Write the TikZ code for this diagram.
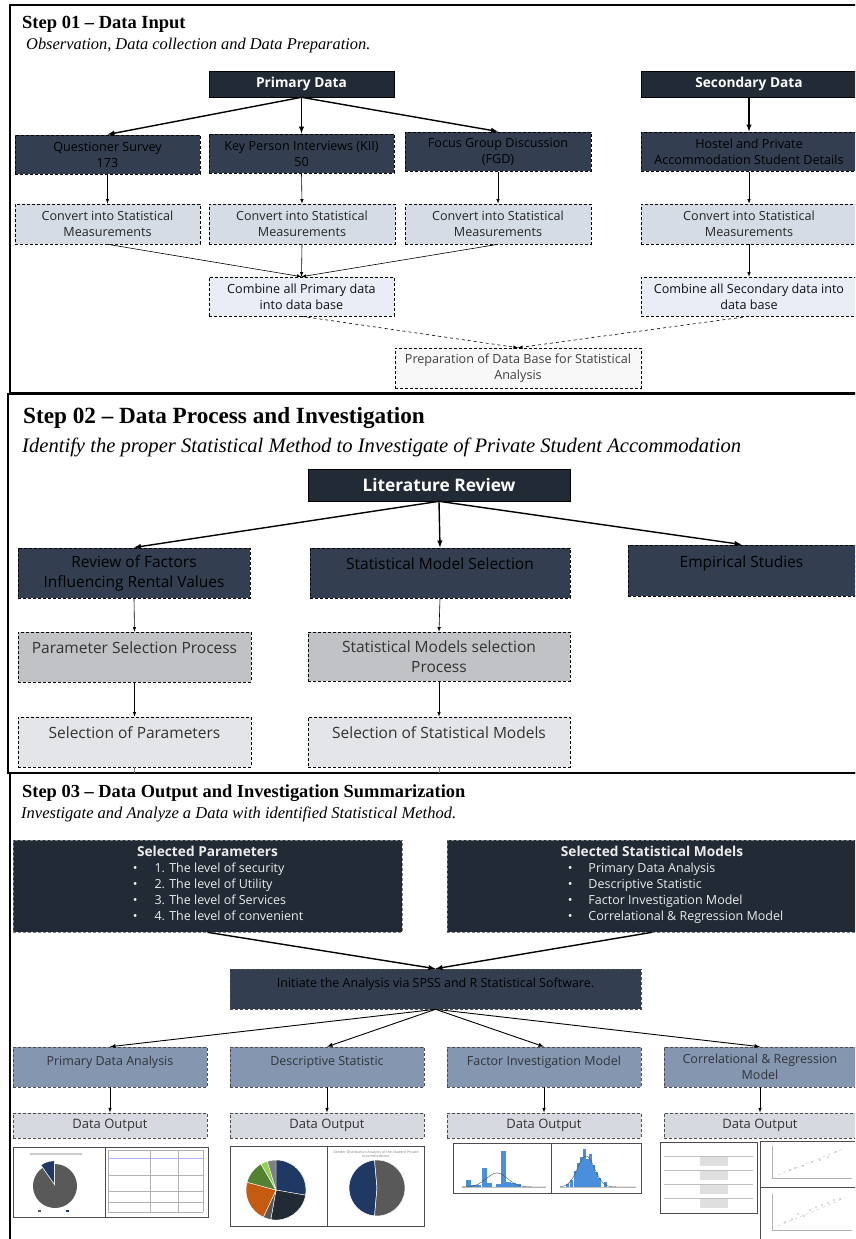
\documentclass[tikz,border=0pt]{standalone}
\usepackage{fontspec}
\setmainfont{Liberation Serif}
\newfontfamily\boxfont{Open Sans}
\usepackage{tikz}

\definecolor{navydark}{HTML}{222A35}
\definecolor{navymid}{HTML}{333F50}
\definecolor{navytext}{HTML}{0E1117}
\definecolor{convfill}{HTML}{D6DCE5}
\definecolor{combfill}{HTML}{E9EEF6}
\definecolor{prepfill}{HTML}{F8F8F8}
\definecolor{procfill}{HTML}{C0C2C6}
\definecolor{selfill}{HTML}{E4E5E9}
\definecolor{bluegrey}{HTML}{8496B0}
\definecolor{outfill}{HTML}{D7D9E1}
\definecolor{chartblue}{HTML}{4A8FDB}
\definecolor{piegrey}{HTML}{595959}
\definecolor{pienavy}{HTML}{203864}
\definecolor{pieorange}{HTML}{C55A11}
\definecolor{piegreen}{HTML}{548235}
\definecolor{pielime}{HTML}{92D050}

\begin{document}
\begin{tikzpicture}[x=1pt,y=-1pt,>=latex,
  frame/.style={line width=1.8pt},
  steptitle/.style={anchor=base west,inner sep=0},
  box/.style={draw,rectangle,inner sep=1pt,align=center,
    font=\boxfont\fontsize{12.6}{16}\selectfont},
  dashbox/.style={dash pattern=on 3pt off 2pt},
  topbox/.style={box,fill=navydark,text=white,minimum height=26,line width=0.6pt,
    font=\boxfont\bfseries\fontsize{13.7}{16}\selectfont},
  srcbox/.style={box,dashbox,fill=navymid,text=black,minimum height=39,line width=1pt},
  convbox/.style={box,dashbox,fill=convfill,text=black!85,minimum height=40,line width=0.6pt},
  combbox/.style={convbox,fill=combfill,text=navytext},
  prepbox/.style={convbox,fill=prepfill,text=black!75},
  litbox/.style={box,fill=navydark,text=white,minimum height=32,line width=0.6pt,
    font=\boxfont\bfseries\fontsize{17.3}{20}\selectfont},
  revbox/.style={box,dashbox,fill=navymid,text=black,minimum height=50,line width=1pt,
    font=\boxfont\fontsize{15.5}{20}\selectfont},
  procbox/.style={revbox,fill=procfill,text=black!80,line width=0.6pt},
  selbox/.style={procbox,fill=selfill},
  listbox/.style={box,dashbox,draw=gray,fill=navydark,text=white!85!gray,line width=0.6pt,
    minimum height=92,font=\boxfont\fontsize{12.5}{16}\selectfont},
  initbox/.style={box,dashbox,draw=gray!60!black,fill=navymid,text=black,line width=0.6pt,
    minimum height=40,font=\boxfont\fontsize{12.5}{16}\selectfont},
  anbox/.style={initbox,fill=bluegrey,text=navytext!85!white},
  outbox/.style={box,dashbox,draw=black!70,fill=outfill,text=black!80,line width=1pt,
    minimum height=25,font=\boxfont\fontsize{13}{16}\selectfont},
  main/.style={->,line width=1.4pt},
  sub/.style={->,line width=0.6pt},
  link/.style={->,dashed,line width=0.6pt},
  thumb/.style={draw=black!70,line width=0.9pt}
]

\useasboundingbox (0,0) rectangle (855,1239);
\clip (0,0) rectangle (855,1239);
\fill[white] (0,0) rectangle (855,1239);

% Frames of the three steps
\draw[frame] (10,5) rectangle (880,393);
\draw[frame] (8,394) rectangle (880,773);
\draw[frame] (10,773) rectangle (880,1260);

%%%%%%%%%% Step 01
\node[steptitle,font=\bfseries\fontsize{18.5}{20}\selectfont] (t1) at (22,29) {Step 01 – Data Input};
\node[steptitle,font=\itshape\fontsize{16.4}{18}\selectfont] (s1) at (26,50) {Observation, Data collection and Data Preparation.};

% Sources
\node[topbox,minimum width=185] (pd) at (301.5,84) {Primary Data};
\node[topbox,minimum width=216] (sd) at (749,84) {Secondary Data};

\node[srcbox,minimum width=185] (qs) at (107.5,154.5) {Questioner Survey\\173};
\node[srcbox,minimum width=185] (kii) at (301.5,153.5) {Key Person Interviews (KII)\\50};
\node[srcbox,minimum width=186] (fgd) at (498,151.5) {Focus Group Discussion\\(FGD)};
\node[srcbox,minimum width=216] (hs) at (749,151.5) {Hostel and Private\\Accommodation Student Details};

% Conversion
\node[convbox,minimum width=185] (cv1) at (107.5,224) {Convert into Statistical\\Measurements};
\node[convbox,minimum width=186] (cv2) at (302,224) {Convert into Statistical\\Measurements};
\node[convbox,minimum width=186] (cv3) at (498,224) {Convert into Statistical\\Measurements};
\node[convbox,minimum width=216] (cv4) at (749,224) {Convert into Statistical\\Measurements};

% Combine
\node[combbox,minimum width=185,minimum height=39] (cpd) at (301.5,296.5) {Combine all Primary data\\into data base};
\node[combbox,minimum width=216,minimum height=39] (csd) at (749,296.5) {Combine all Secondary data into\\data base};
\node[prepbox,minimum width=246] (prep) at (518,368) {Preparation of Data Base for Statistical\\Analysis};

\draw[main] (pd.south) -- (qs.north);
\draw[main] (pd.south) -- (kii.north);
\draw[main] (pd.south) -- (fgd.north);
\draw[main] (sd.south) -- (hs.north);

\draw[sub] (qs.south) -- (cv1.north);
\draw[sub] (kii.south) -- (cv2.north);
\draw[sub] (fgd.south) -- (cv3.north);
\draw[sub] (hs.south) -- (cv4.north);

\draw[sub] (cv1.south) -- (cpd.north);
\draw[sub] (cv2.south) -- (cpd.north);
\draw[sub] (cv3.south) -- (cpd.north);
\draw[sub] (cv4.south) -- (csd.north);

\draw[link] (cpd.south) -- (prep.north);
\draw[link] (csd.south) -- (prep.north);

%%%%%%%%%% Step 02
\node[steptitle,font=\bfseries\fontsize{23.2}{25}\selectfont] (t2) at (23,423) {Step 02 – Data Process and Investigation};
\node[steptitle,font=\itshape\fontsize{20.6}{22}\selectfont] (s2) at (22,452) {Identify the proper Statistical Method to Investigate of Private Student Accommodation};

\node[litbox,minimum width=262] (lr) at (439,485) {Literature Review};

\node[revbox,minimum width=232] (rf) at (134,573) {Review of Factors\\Influencing Rental Values};
\node[revbox,minimum width=260] (ms) at (440,573) {Statistical Model Selection\\[-8pt]\strut};
\node[revbox,minimum width=227,minimum height=51] (es) at (741.5,570.5) {Empirical Studies\\[-8pt]\strut};

\node[procbox,minimum width=233] (ps) at (134.5,657) {Parameter Selection Process\\[-8pt]\strut};
\node[procbox,minimum width=262,minimum height=49] (msp) at (439,656.5) {Statistical Models selection\\Process};

\node[selbox,minimum width=233] (sp) at (134.5,742) {Selection of Parameters\\[-8pt]\strut};
\node[selbox,minimum width=262] (ssm) at (439,742) {Selection of Statistical Models\\[-8pt]\strut};

\coordinate (sp-end) at (134.5,773);
\coordinate (ssm-end) at (439,773);

\draw[main] (lr.south) -- (rf.north);
\draw[main] (lr.south) -- (ms.north);
\draw[main] (lr.south) -- (es.north);

\draw[sub] (rf.south) -- (ps.north);
\draw[sub] (ps.south) -- (sp.north);
\draw[sub] (ms.south) -- (msp.north);
\draw[sub] (msp.south) -- (ssm.north);
\draw[gray,line width=0.5pt] (sp.south) -- (sp-end);
\draw[gray,line width=0.5pt] (ssm.south) -- (ssm-end);

%%%%%%%%%% Step 03
\node[steptitle,font=\bfseries\fontsize{18.4}{20}\selectfont] (t3) at (22,797) {Step 03 – Data Output and Investigation Summarization};
\node[steptitle,font=\itshape\fontsize{16.5}{18}\selectfont] (s3) at (21,818) {Investigate and Analyze a Data with identified Statistical Method.};

\node[listbox,minimum width=389] (spar) at (207.5,886) {%
  {\bfseries\fontsize{13.7}{16}\selectfont Selected Parameters}\\
  \hspace*{21pt}\begin{tabular}[t]{@{}l@{\hspace{17pt}}l@{}}
  \textbullet & 1. The level of security\\
  \textbullet & 2. The level of Utility\\
  \textbullet & 3. The level of Services\\
  \textbullet & 4. The level of convenient
  \end{tabular}};
\node[listbox,minimum width=410] (smod) at (652,886) {%
  {\bfseries\fontsize{13.7}{16}\selectfont Selected Statistical Models}\\
  \hspace*{47pt}\begin{tabular}[t]{@{}l@{\hspace{16pt}}l@{}}
  \textbullet & Primary Data Analysis\\
  \textbullet & Descriptive Statistic\\
  \textbullet & Factor Investigation Model\\
  \textbullet & Correlational \& Regression Model
  \end{tabular}};

\node[initbox,minimum width=411] (ini) at (435.5,989) {Initiate the Analysis via SPSS and R Statistical Software.\\[-8pt]\strut};

\node[anbox,minimum width=194] (pda) at (110,1067) {Primary Data Analysis\\[-8pt]\strut};
\node[anbox,minimum width=194] (dst) at (327,1067) {Descriptive Statistic\\[-8pt]\strut};
\node[anbox,minimum width=194] (fim) at (544,1067) {Factor Investigation Model\\[-8pt]\strut};
\node[anbox,minimum width=192] (crm) at (760,1067) {Correlational \& Regression\\Model};

\node[outbox,minimum width=194] (do1) at (110,1125.5) {Data Output};
\node[outbox,minimum width=194] (do2) at (327,1125.5) {Data Output};
\node[outbox,minimum width=194] (do3) at (544,1125.5) {Data Output};
\node[outbox,minimum width=192] (do4) at (760,1125.5) {Data Output};

\draw[main] (spar.south) -- (ini.north);
\draw[main] (smod.south) -- (ini.north);
\foreach \n in {pda,dst,fim,crm}
  \draw[->,line width=0.9pt] (ini.south) -- (\n.north);

\draw[sub] (pda.south) -- (do1.north);
\draw[sub] (dst.south) -- (do2.north);
\draw[sub] (fim.south) -- (do3.north);
\draw[sub] (crm.south) -- (do4.north);

% Output 1: respond chart and table
\draw[thumb] (13,1147) rectangle (208,1217);
\draw[thumb] (105,1147) -- (105,1217);
\fill[piegrey] (55,1186) -- ++(-125:22) arc[start angle=-125,end angle=-450,radius=22] -- cycle;
\fill[pienavy,shift={(-108:3)}] (55,1186) -- ++(-90:22) arc[start angle=-90,end angle=-125,radius=22] -- cycle;
\fill[gray!40] (30,1153) rectangle (82,1155);
\fill[piegrey] (38,1212) rectangle ++(3,-2);
\fill[pienavy] (66,1212) rectangle ++(3,-2);
\foreach \yy in {1150,1158,1175,1191,1202,1212}
  \draw[gray!60,line width=0.4pt] (108,\yy) -- (203,\yy);
\foreach \xx in {108,150,178,203}
  \draw[gray!60,line width=0.4pt] (\xx,1150) -- (\xx,1212);
\draw[blue!30,line width=0.6pt] (108,1158) -- (203,1158);

% Output 2: two pie charts
\draw[thumb] (230,1146) rectangle (424,1226);
\draw[thumb] (327,1146) -- (327,1226);
\foreach \a/\b/\c in {-90/10/pienavy,10/100/navydark,100/115/piegrey,115/195/pieorange,195/240/piegreen,240/253/pielime,253/270/gray}
  \filldraw[fill=\c,draw=white,line width=0.4pt] (276,1190) -- ++(\a:30) arc[start angle=\a,end angle=\b,radius=30] -- cycle;
\filldraw[fill=pienavy,draw=white,line width=0.5pt] (377,1188) -- ++(-95:28) arc[start angle=-95,end angle=-265,radius=28] -- cycle;
\filldraw[fill=piegrey,draw=white,line width=0.5pt] (377,1188) -- ++(-265:28) arc[start angle=-265,end angle=-455,radius=28] -- cycle;
\node[font=\boxfont\fontsize{3.6}{4.2}\selectfont,text=gray,align=center,inner sep=0] (gda) at (376,1154) {Gender Distribution Analysis of the Student Private\\Accommodation.};

% Output 3: histograms
\draw[thumb] (453,1143) rectangle (641,1193);
\draw[thumb] (551,1143) -- (551,1193);
\draw[gray!50,line width=0.3pt] (462,1187) -- (546,1187);
\draw[gray!50,line width=0.3pt] (560,1187) -- (636,1187);
\foreach \xx/\hh in {466/7,471/2,476/2,482/19,487/4,496/3,501/36,506/5,511/4,516/3}
  \fill[chartblue] (\xx,1187) rectangle ++(4.5,-\hh);
\foreach \xx/\hh in {566/3,570/7,574/16,577/24,580/30,583/38,586/28,589/33,592/22,595/15,598/9,604/5}
  \fill[chartblue] (\xx,1187) rectangle ++(3,-\hh);
\draw[black!70,line width=0.4pt,smooth] plot[domain=462:546,samples=40] (\x,{1187-14*exp(-((\x-497)/15)^2)});
\draw[black!70,line width=0.4pt,smooth] plot[domain=560:636,samples=40] (\x,{1187-31*exp(-((\x-586)/12)^2)});

% Output 4: correlation table and scatter plots
\draw[thumb] (660,1142) rectangle (757,1213);
\foreach \yy in {1156,1170,1184,1198} {
  \fill[gray!25] (700,\yy) rectangle (728,\yy+10);
  \draw[gray!50,line width=0.3pt] (664,\yy) -- (753,\yy);
}
\draw[thumb] (760,1141) rectangle (870,1187);
\draw[thumb] (760,1187) rectangle (870,1250);
\draw[gray!60,line width=0.3pt] (772,1146) -- (772,1178) -- (852,1178);
\draw[gray!60,line width=0.3pt] (772,1194) -- (772,1230) -- (852,1230);
\draw[gray!50,dashed,line width=0.3pt] (778,1175) -- (845,1148);
\draw[gray!50,dashed,line width=0.3pt] (778,1226) -- (845,1198);
\foreach \xx/\yy in {790/1170,795/1168,803/1166,812/1162,820/1160,828/1157,836/1152}
  \fill[black!60] (\xx,\yy) circle (0.6);
\foreach \xx/\yy in {785/1222,792/1219,798/1214,804/1216,810/1210,816/1207,822/1205,828/1203,834/1200,840/1199}
  \fill[black!60] (\xx,\yy) circle (0.6);

\end{tikzpicture}
\end{document}
